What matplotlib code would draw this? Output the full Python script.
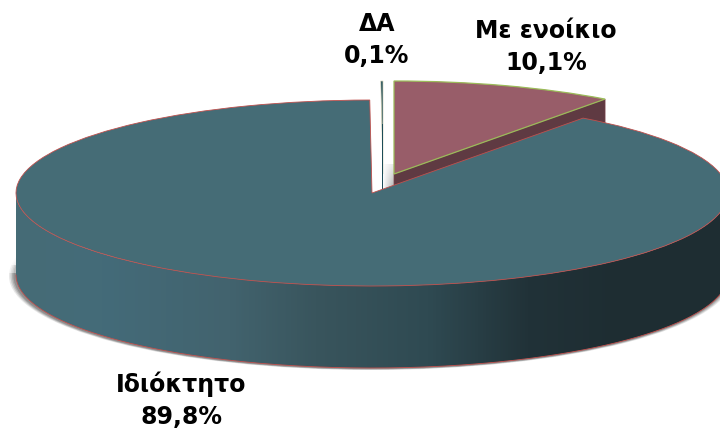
import numpy as np
import matplotlib
matplotlib.use("Agg")
import matplotlib.pyplot as plt
from matplotlib.patches import Wedge, Polygon, Ellipse, Rectangle
from matplotlib.transforms import Affine2D
from matplotlib.colors import LinearSegmentedColormap

categories = ["Με ενοίκιο", "Ιδιόκτητο", "ΔΑ"]
values = [10.1, 89.8, 0.1]

W, H = 720, 431
CX, CY, RX, RY, DEPTH = 372.0, 194.0, 356.0, 93.0, 82.0
explode = {0: (22.0, -19.0), 1: (0.0, 0.0), 2: (11.0, -19.0)}
top_col = ["#985d69", "#456c76", "#1d4c58"]
edge_col = ["#9bbb59", "#c0504d", "#d8d4b8"]
label_pos = [(546, 47), (181, 400), (377, 40)]

plt.rcParams["font.family"] = ["DejaVu Sans"]
fig = plt.figure(figsize=(W / 100, H / 100), dpi=100, facecolor="white")
ax = fig.add_axes([0, 0, 1, 1])
ax.set_xlim(0, W)
ax.set_ylim(H, 0)
ax.axis("off")

total = sum(values)
ends = np.cumsum(values) / total * 360.0
starts = np.concatenate([[0.0], ends[:-1]])


def pt(a, cx=CX, cy=CY):
    r = np.radians(a)
    return cx + RX * np.sin(r), cy - RY * np.cos(r)


def wedge(i, dy=0.0, **kw):
    dx, ey = explode[i]
    tr = Affine2D().scale(RX, -RY).translate(CX + dx, CY + ey + dy) + ax.transData
    return Wedge((0, 0), 1, 90 - ends[i], 90 - starts[i], transform=tr, **kw)


# soft shadow under the main body, stronger on the left, fading upward
for y0, fade in [(258, 0.35), (266, 0.65), (274, 1.0)]:
    clip = Rectangle((0, y0), W, H - y0, transform=ax.transData)
    for grow, al in [(6, 0.07), (4.5, 0.10), (3, 0.13), (1.5, 0.18)]:
        e = Ellipse((CX - 1, CY + DEPTH + 0.8), 2 * RX + 2 * grow, 2 * RY + 0.4 * grow,
                    fc="#555555", ec="none", alpha=al * fade, zorder=1)
        ax.add_patch(e)
        e.set_clip_path(clip)

# shadow beside the rented slice
grad = np.zeros((8, 12, 4))
grad[..., :3] = 0.62
grad[..., 3] = np.linspace(0.05, 0.8, 12)[None, :] * np.linspace(0.3, 1, 8)[:, None]
ax.imshow(grad, extent=(383, 394, 191, 166), zorder=1.5, aspect="auto", interpolation="bilinear")

# exploded sliver
ax.add_patch(wedge(2, fc=top_col[2], ec=edge_col[2], lw=0.5, zorder=2))
sx, sy = CX + explode[2][0], CY + explode[2][1]
ax.add_patch(Polygon([(sx - 1.3, sy - 50), (sx, sy - 50), (sx, sy + 20), (sx - 1.3, sy + 20)],
                     fc=top_col[2], ec="none", zorder=2))

# rented slice: cut face, then top
dx0, dy0 = explode[0]
ax0, ay0 = CX + dx0, CY + dy0
bx, by = pt(ends[0], CX + dx0, CY + dy0)
ax.add_patch(Polygon([(ax0, ay0), (bx, by), (bx, by + DEPTH), (ax0, ay0 + DEPTH)],
                     fc="#5f3a42", ec="#7a4048", lw=0.5, zorder=3))
ax.add_patch(wedge(0, fc=top_col[0], ec=edge_col[0], lw=0.9, zorder=4))

# main body side with horizontal gradient
th = np.linspace(90, 270, 240)
xt, yt = pt(th)
body = np.vstack([np.column_stack([xt, yt]), np.column_stack([xt, yt + DEPTH])[::-1]])
body_patch = Polygon(body, closed=True, fc="none", ec="none", transform=ax.transData)
ax.add_patch(body_patch)
cmap = LinearSegmentedColormap.from_list(
    "side",
    [(0.0, "#466c76"), (0.12, "#446b79"), (0.30, "#42636e"), (0.42, "#39555d"),
     (0.58, "#2f4a52"), (0.72, "#213238"), (0.85, "#1e2d32"), (1.0, "#1f2e33")],
)
img = ax.imshow(np.linspace(0, 1, 512)[None, :], extent=(CX - RX, CX + RX, H, 0),
                cmap=cmap, aspect="auto", zorder=5)
img.set_clip_path(body_patch)
ax.plot(xt, yt + DEPTH, color=edge_col[1], lw=0.6, zorder=6)

# main top
ax.add_patch(wedge(1, fc=top_col[1], ec=edge_col[1], lw=0.6, zorder=7))

ax.set_xlim(0, W)
ax.set_ylim(H, 0)

for name, v, (x, y) in zip(categories, values, label_pos):
    txt = f"{name}\n{v:.1f}%".replace(".", ",")
    ax.text(x, y, txt, ha="center", va="center", fontsize=17, fontweight="bold",
            color="black", linespacing=1.42, zorder=10)

fig.savefig("out.png", dpi=100, facecolor="white")
